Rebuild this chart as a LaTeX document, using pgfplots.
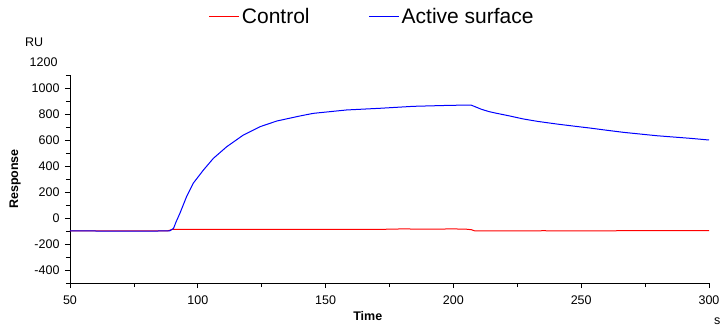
\documentclass[border=0pt]{standalone}
\usepackage{pgfplots}
\pgfplotsset{compat=1.18}
\usepackage{fontspec}
\setmainfont{Liberation Sans}

\begin{document}
\begin{tikzpicture}
\useasboundingbox (-70pt,-43pt) rectangle (655pt,283pt);
\begin{axis}[
  at={(0,0)}, anchor=south west,
  scale only axis, width=639pt, height=208pt,
  xmin=50, xmax=300, ymin=-500, ymax=1100,
  axis lines*=left,
  axis line style={black, line width=0.8pt},
  xtick={50,100,...,300},
  minor xtick={75,125,...,275},
  ytick={-400,-200,...,1000},
  minor ytick={-500,-300,...,1100},
  tick align=outside,
  major tick length=5pt, minor tick length=4pt,
  tick style={black, line width=0.8pt},
  every tick label/.append style={font=\fontsize{12.5}{14}\selectfont},
  /pgf/number format/assume math mode=true,
  /pgf/number format/1000 sep={},
  xticklabel style={yshift=-4pt},
  yticklabel style={xshift=-2pt},
  xlabel={\bfseries Time},
  xlabel style={at={(axis description cs:0.466,-0.159)}, anchor=center, font=\fontsize{12.5}{14}\selectfont},
  ylabel={\bfseries Response},
  ylabel style={at={(axis description cs:-0.086,0.5)}, anchor=center, rotate=0, font=\fontsize{12.5}{14}\selectfont},
  clip=false,
  legend columns=2,
  legend style={at={(axis description cs:0.473,1.279)}, anchor=center,
    draw=none, fill=none, font=\fontsize{21}{24}\selectfont,
    /tikz/every even column/.append style={column sep=57pt}},
  legend image code/.code={\draw[#1] (0pt,0pt) -- (24pt,0pt); \path (24pt,0pt) -- (30pt,0pt);},
]
% reference cell
\addplot[draw=red, line width=1pt] coordinates {
  (50,-100) (70,-100) (88,-100) (90,-88) (120,-88) (170,-88) (180,-84)
  (190,-86) (200,-84) (205,-86) (207,-90) (208.5,-100) (220,-100)
  (235,-98) (250,-99) (265,-98) (300,-98)
};
\addlegendentry{Control}
% active cell: association phase from 90 s, dissociation from 207 s
\addplot[draw=blue, line width=1pt] coordinates {
  (50,-100) (60,-100) (70,-101) (80,-101) (89,-99) (90.5,-80) (91.5,-30)
  (93,36) (95.6,164) (98.2,267) (102.2,369) (106.1,459) (111.3,548)
  (117.8,638) (124.3,702) (130.9,746) (140,785) (145.2,805) (158.2,831)
  (171.3,844) (184.3,859) (197.4,866) (205.8,869) (207,868) (209,852)
  (211,836) (214,818) (217,805) (222,785) (227.3,762) (233,743)
  (240.4,723) (247,707) (253.4,692) (260,675) (266.5,659) (273,646)
  (279.5,633) (286,623) (292.6,613) (300,600)
};
\addlegendentry{Active surface}
\node[font=\fontsize{12.5}{14}\selectfont, anchor=east] at (axis description cs:-0.014,1.0625) {1200};
\node[font=\fontsize{12.5}{14}\selectfont] at (axis description cs:-0.056,1.159) {RU};
\node[font=\fontsize{12.5}{14}\selectfont, anchor=east] at (axis description cs:1.0235,-0.185) {s};
\end{axis}
\end{tikzpicture}
\end{document}
